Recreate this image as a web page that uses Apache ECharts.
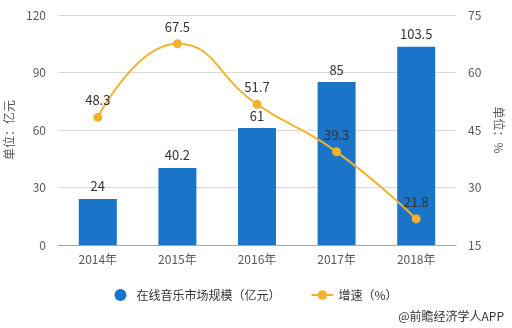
<!DOCTYPE html>
<html>
<head>
<meta charset="utf-8">
<script src="https://cdn.jsdelivr.net/npm/echarts@6/dist/echarts.min.js"></script>
<style>
html,body{margin:0;padding:0;background:#fff;}
#chart{width:512px;height:328px;}
</style>
</head>
<body>
<div id="chart"></div>
<script>
// Online music market size and growth rate, 2014-2018
const years = ['2014年', '2015年', '2016年', '2017年', '2018年'];
const marketSize = [24, 40.2, 61, 85, 103.5];   // 亿元
const growthRate = [48.3, 67.5, 51.7, 39.3, 21.8]; // %

const font = '"Microsoft YaHei","Noto Sans CJK SC",sans-serif';
const chart = echarts.init(document.getElementById('chart'));

chart.setOption({
  animation: false,
  textStyle: { fontFamily: font },
  grid: { left: 58, right: 56, top: 15, bottom: 83, outerBoundsMode: 'none', containLabel: false },
  legend: {
    bottom: 22,
    left: 'center',
    itemGap: 30,
    itemWidth: 22,
    itemHeight: 12,
    textStyle: { fontSize: 12, color: '#333', fontFamily: font },
    data: [
      { name: '在线音乐市场规模（亿元）', icon: 'circle' },
      { name: '增速（%）' }
    ]
  },
  graphic: [{
    type: 'text',
    right: 8,
    bottom: 6,
    style: { text: '@前瞻经济学人APP', fontSize: 12, fill: '#333', fontFamily: font }
  }],
  xAxis: {
    type: 'category',
    data: years,
    axisLine: { lineStyle: { color: '#a6a6a6' } },
    axisTick: { alignWithLabel: true, lineStyle: { color: '#a6a6a6' } },
    axisLabel: { color: '#595959', fontSize: 12, margin: 8 }
  },
  yAxis: [{
    type: 'value',
    min: 0, max: 120, interval: 30,
    name: '单位：亿元',
    nameLocation: 'middle',
    nameGap: 40,
    nameTextStyle: { color: '#595959', fontSize: 12 },
    axisLabel: { color: '#595959', fontSize: 12, margin: 12 },
    splitLine: { lineStyle: { color: '#d9d9d9' } },
    axisLine: { show: false },
    axisTick: { show: false }
  }, {
    type: 'value',
    min: 15, max: 75, interval: 15,
    name: '单位：%',
    nameLocation: 'middle',
    nameGap: 36,
    nameRotate: -90,
    nameTextStyle: { color: '#595959', fontSize: 12 },
    axisLabel: { color: '#595959', fontSize: 12, margin: 12 },
    splitLine: { show: false },
    axisLine: { show: false },
    axisTick: { show: false }
  }],
  series: [{
    name: '在线音乐市场规模（亿元）',
    type: 'bar',
    data: marketSize,
    barWidth: 38,
    itemStyle: { color: '#1a74c7' },
    label: { show: true, position: 'top', color: '#333', fontSize: 13, distance: 6 }
  }, {
    name: '增速（%）',
    type: 'line',
    yAxisIndex: 1,
    data: growthRate,
    smooth: true,
    symbol: 'circle',
    symbolSize: 9,
    lineStyle: { color: '#f0b330', width: 2 },
    itemStyle: { color: '#f0b330' },
    label: { show: true, position: 'top', color: '#333', fontSize: 13, distance: 6 }
  }]
});
</script>
</body>
</html>
